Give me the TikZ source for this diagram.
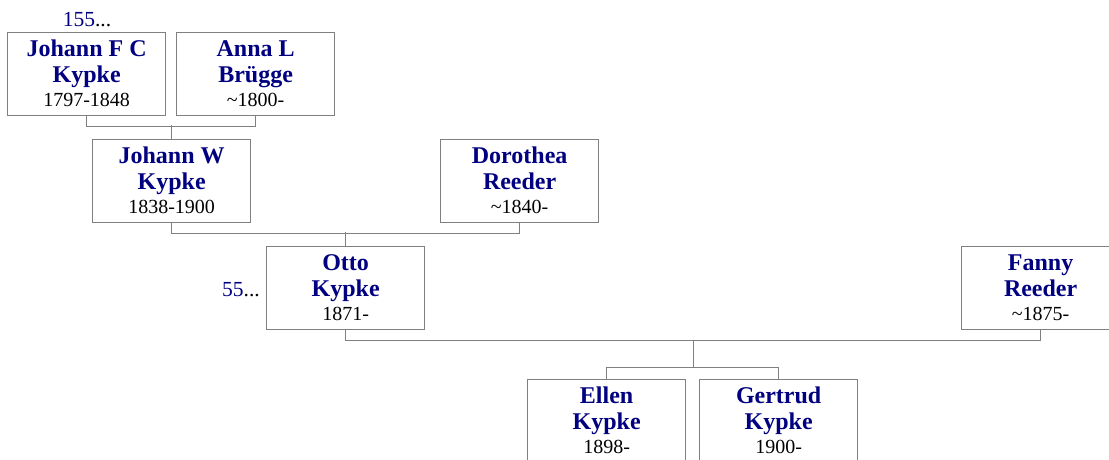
\documentclass[tikz,border=0pt]{standalone}
\usepackage{fontspec}
\setmainfont{Liberation Serif}
\usetikzlibrary{calc}
\definecolor{navy}{RGB}{0,0,128}
\definecolor{lgray}{RGB}{128,128,128}
\newcommand\famperson[6]{%
  \node[pbox] (#1) at (#2,#3) {};
  \node[nm] (#1-a) at ($(#1.north)+(0,-24)$) {#4};
  \node[nm] (#1-b) at ($(#1.north)+(0,-50)$) {#5};
  \node[dt] (#1-c) at ($(#1.north)+(0,-74)$) {#6};
}
\begin{document}
\begin{tikzpicture}[x=1pt,y=1pt,
  pbox/.style={draw=lgray,line width=1.3pt,rectangle,minimum width=158pt,minimum height=83pt,inner sep=0pt,anchor=north west,fill=white},
  nm/.style={anchor=base,inner sep=0pt,text=navy,font=\bfseries\fontsize{24}{28}\selectfont},
  dt/.style={anchor=base,inner sep=0pt,text=black,font=\fontsize{20}{24}\selectfont},
  conn/.style={draw=lgray,line width=1.3pt},
  more/.style={inner sep=0pt,font=\fontsize{21.5}{25}\selectfont}]
\useasboundingbox (0,0) rectangle (1109,-459);
\fill[white] (0,0) rectangle (1109,-459);

\famperson{jfc}{7}{-32}{Johann F C}{Kypke}{1797-1848}
\famperson{al}{176}{-32}{Anna L}{Brügge}{\textasciitilde1800-}
\famperson{jw}{92}{-139}{Johann W}{Kypke}{1838-1900}
\famperson{dr}{440}{-139}{Dorothea}{Reeder}{\textasciitilde1840-}
\famperson{ot}{266}{-246}{Otto}{Kypke}{1871-}
\famperson{fr}{961}{-246}{Fanny}{Reeder}{\textasciitilde1875-}
\famperson{el}{527}{-379}{Ellen}{Kypke}{1898-}
\famperson{ge}{699}{-379}{Gertrud}{Kypke}{1900-}

\node[more,anchor=base] (m1) at (87,-26) {\textcolor{navy}{155}...};
\node[more,anchor=base east] (m2) at (260,-296) {\textcolor{navy}{55}...};

\draw[conn] (jfc.south) -- ++(0,-10) -| (al.south);
\draw[conn] (jw.north) -- ++(0,14);
\draw[conn] (jw.south) -- ++(0,-10) -| (dr.south);
\draw[conn] (ot.north) -- ++(0,14);
\draw[conn] (ot.south) -- ++(0,-10) -| (fr.south);
\coordinate (c3) at ($(ot.south)!0.5!(fr.south)+(0,-10)$);
\coordinate (k) at ($(c3)+(0,-27)$);
\draw[conn] (c3) -- (k);
\draw[conn] (el.north) |- (k) -| (ge.north);
\end{tikzpicture}
\end{document}
